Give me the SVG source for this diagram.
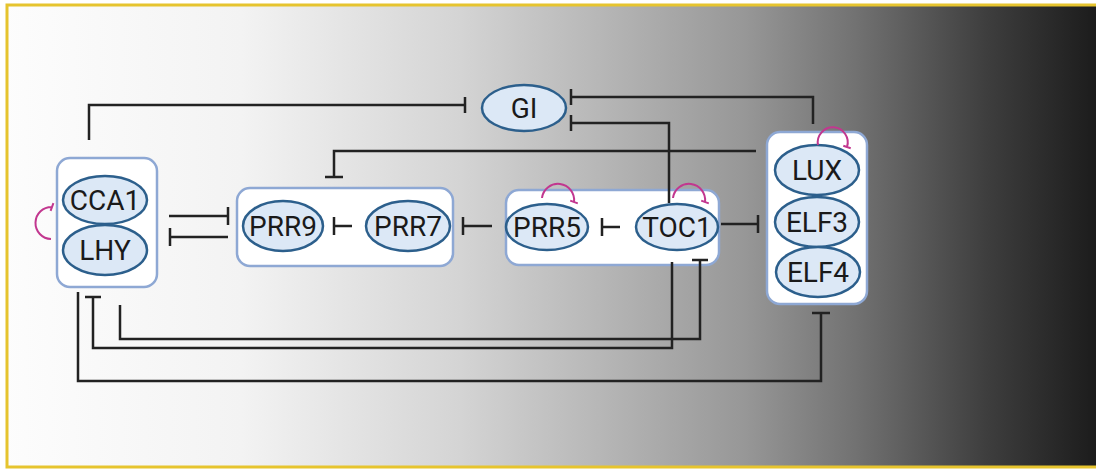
<svg xmlns="http://www.w3.org/2000/svg" width="1096" height="472" viewBox="0 0 1096 472">
  <defs>
    <linearGradient id="bg" x1="0" y1="0" x2="1096" y2="0" gradientUnits="userSpaceOnUse">
      <stop offset="0" stop-color="#fdfdfd"/>
      <stop offset="0.22" stop-color="#f3f3f3"/>
      <stop offset="0.42" stop-color="#d4d4d4"/>
      <stop offset="0.55" stop-color="#b6b6b6"/>
      <stop offset="0.68" stop-color="#979797"/>
      <stop offset="0.78" stop-color="#727272"/>
      <stop offset="0.9" stop-color="#3e3e3e"/>
      <stop offset="1" stop-color="#1c1c1c"/>
    </linearGradient>
    <style>
      .box { fill: #ffffff; stroke: #8ea8d4; stroke-width: 2.5; }
      .gene { fill: #dce8f6; stroke: #2c5f8c; stroke-width: 2.5; }
      .lbl { font-family: Roboto, "Liberation Sans", sans-serif; font-size: 28px; fill: #1a1a1a; text-anchor: middle; dominant-baseline: central; }
      .edge { fill: none; stroke: #222222; stroke-width: 2.5; }
      .loop { fill: none; stroke: #c2378f; stroke-width: 2; }
    </style>
  </defs>

  <!-- backdrop and frame -->
  <rect x="0" y="0" width="1096" height="472" fill="#ffffff"/>
  <rect x="7" y="5" width="1100" height="462" fill="url(#bg)" stroke="#e6c42e" stroke-width="3"/>

  <g id="node-gi">
    <ellipse class="gene" cx="524" cy="108" rx="42" ry="23"/>
    <text class="lbl" x="524" y="108">GI</text>
  </g>

  <g id="node-cca1-lhy">
    <rect class="box" x="57" y="158" width="100" height="129" rx="13"/>
    <ellipse class="gene" cx="105" cy="200" rx="42" ry="24"/>
    <text class="lbl" x="105" y="200">CCA1</text>
    <ellipse class="gene" cx="105" cy="250" rx="42" ry="25"/>
    <text class="lbl" x="105" y="250">LHY</text>
  </g>

  <g id="node-prr9-prr7">
    <rect class="box" x="237" y="188" width="216" height="78" rx="13"/>
    <ellipse class="gene" cx="283" cy="226" rx="40" ry="25"/>
    <text class="lbl" x="283" y="226">PRR9</text>
    <ellipse class="gene" cx="408" cy="226" rx="42" ry="25"/>
    <text class="lbl" x="408" y="226">PRR7</text>
  </g>

  <g id="node-prr5-toc1">
    <rect class="box" x="506" y="190" width="213" height="75" rx="13"/>
    <ellipse class="gene" cx="547" cy="227" rx="41" ry="23"/>
    <text class="lbl" x="547" y="227">PRR5</text>
    <ellipse class="gene" cx="677" cy="227" rx="41" ry="23"/>
    <text class="lbl" x="677" y="227">TOC1</text>
  </g>

  <g id="node-evening-complex">
    <rect class="box" x="767" y="132" width="100" height="172" rx="13"/>
    <ellipse class="gene" cx="817" cy="170" rx="42" ry="25"/>
    <text class="lbl" x="817" y="170">LUX</text>
    <ellipse class="gene" cx="817" cy="222" rx="42" ry="25"/>
    <text class="lbl" x="817" y="222">ELF3</text>
    <ellipse class="gene" cx="818" cy="272" rx="42" ry="25"/>
    <text class="lbl" x="818" y="272">ELF4</text>
  </g>

  <!-- connectors (blunt ends mark repression) -->
  <g id="connectors" class="edge">
    <!-- CCA1/LHY -| GI -->
    <path d="M89,140 V105 H465 M465,97 V113"/>
    <!-- LUX -| GI -->
    <path d="M813,124 V97 H571 M571,89 V105"/>
    <!-- TOC1 -| GI -->
    <path d="M669,203 V123 H571 M571,115 V131"/>
    <!-- LUX -| PRR9/PRR7 -->
    <path d="M756,151 H334 V177 M325,177 H343"/>
    <!-- CCA1/LHY -| PRR9/PRR7 -->
    <path d="M169,216 H228 M228,207 V225"/>
    <!-- PRR9/PRR7 -| CCA1/LHY -->
    <path d="M228,237 H170 M170,228 V246"/>
    <!-- PRR7 -| PRR9 -->
    <path d="M352,226 H334 M334,217 V235"/>
    <!-- PRR5 -| PRR7 -->
    <path d="M492,226 H463 M463,217 V235"/>
    <!-- TOC1 -| PRR5 -->
    <path d="M620,227 H602 M602,218 V236"/>
    <!-- TOC1 -| evening complex -->
    <path d="M721,224 H758 M758,215 V233"/>
    <!-- TOC1 -| CCA1/LHY -->
    <path d="M672,262 V348 H93 V297 M85,297 H101"/>
    <!-- CCA1/LHY -| TOC1 -->
    <path d="M120,305 V339 H700 V260 M692,260 H708"/>
    <!-- CCA1/LHY -| evening complex -->
    <path d="M78,292 V381 H821 V313 M812,313 H830"/>
  </g>

  <!-- self-repression loops -->
  <g id="loops" class="loop">
    <path d="M51,239 A16,16 0 1 1 52,207 M50.6,210.8 L53.4,203.2"/>
    <path d="M542,198 A16,16 0 1 1 574,202 M570.2,200.6 L577.8,203.4"/>
    <path d="M673,198 A16,16 0 1 1 705,202 M701.2,200.6 L708.8,203.4"/>
    <path d="M818,145 A15,15 0 1 1 847,147 M843.3,145.8 L850.7,148.2"/>
  </g>
</svg>
